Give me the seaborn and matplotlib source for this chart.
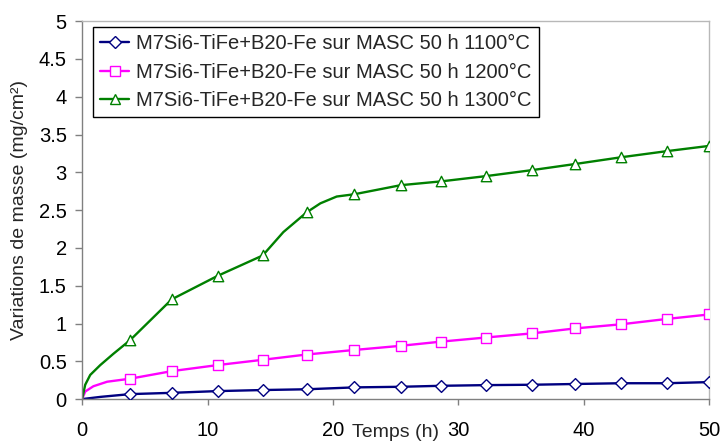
import matplotlib
matplotlib.use("Agg")
import matplotlib.pyplot as plt
from matplotlib.lines import Line2D
import numpy as np
import pandas as pd
import seaborn as sns

# ---- data ----
t_mark = [3.83, 7.15, 10.8, 14.4, 17.9, 21.7, 25.4, 28.6, 32.2, 35.9, 39.3, 43.0, 46.6, 50.0]
mass_1100 = [0.066, 0.083, 0.106, 0.12, 0.13, 0.155, 0.163, 0.176, 0.185, 0.19, 0.20, 0.21, 0.21, 0.225]
mass_1200 = [0.27, 0.37, 0.45, 0.52, 0.59, 0.65, 0.705, 0.76, 0.815, 0.87, 0.935, 0.99, 1.06, 1.12]
mass_1300 = [0.78, 1.32, 1.63, 1.90, 2.47, 2.71, 2.83, 2.88, 2.95, 3.03, 3.11, 3.20, 3.28, 3.35]

# extra points (no marker drawn there)
t_extra_1100 = [0.0, 1.5]
extra_1100 = [0.0, 0.03]
t_extra_1200 = [0.0, 0.25, 0.9, 2.0]
extra_1200 = [0.0, 0.10, 0.17, 0.23]
t_extra_1300 = [0.0, 0.25, 0.65, 1.45, 2.5, 16.05, 19.0, 20.3]
extra_1300 = [0.0, 0.19, 0.32, 0.45, 0.60, 2.21, 2.59, 2.68]

labels = [
    "M7Si6-TiFe+B20-Fe sur MASC 50 h 1100°C",
    "M7Si6-TiFe+B20-Fe sur MASC 50 h 1200°C",
    "M7Si6-TiFe+B20-Fe sur MASC 50 h 1300°C",
]
x_ticks = [0, 10, 20, 30, 40, 50]
y_ticks = [0, 0.5, 1, 1.5, 2, 2.5, 3, 3.5, 4, 4.5, 5]

colors = ["#000080", "#ff00ff", "#008000"]
markers = ["D", "s", "^"]
msizes = [6.0, 6.5, 7.5]

sns.set_theme(style="white")
plt.rcParams["font.family"] = ["Liberation Sans", "DejaVu Sans"]

fig = plt.figure(figsize=(7.2, 4.41), dpi=100)
ax = fig.add_axes([0.114, 0.095, 0.871, 0.857])

series = [
    (t_extra_1100, extra_1100, mass_1100),
    (t_extra_1200, extra_1200, mass_1200),
    (t_extra_1300, extra_1300, mass_1300),
]
handles = []
for (te, ye, ym), c, mk, ms, lab in zip(series, colors, markers, msizes, labels):
    df = pd.DataFrame({"t": list(te) + list(t_mark), "m": list(ye) + list(ym)}).sort_values("t")
    sns.lineplot(data=df, x="t", y="m", ax=ax, color=c, lw=1.7, legend=False)
    sns.scatterplot(x=t_mark, y=ym, ax=ax, marker=mk, s=ms ** 2, color="white",
                    edgecolor=c, linewidth=1.0, zorder=3, legend=False)
    handles.append(Line2D([0], [0], color=c, lw=1.7, marker=mk, markersize=ms,
                          markerfacecolor="white", markeredgecolor=c, markeredgewidth=1.0))

ax.set_xlim(0, 50)
ax.set_ylim(0, 5)
ax.set_xticks(x_ticks)
ax.set_yticks(y_ticks)
ax.set_xticklabels([str(v) for v in x_ticks])
ax.set_yticklabels([f"{v:g}" for v in y_ticks])

ax.tick_params(axis="x", direction="out", length=4, width=1, color="#808080",
               pad=12, labelsize=14.5, labelcolor="black", bottom=True)
ax.tick_params(axis="y", direction="out", length=5, width=1, color="#808080",
               pad=6, labelsize=14.5, labelcolor="black", left=True)

for side in ["left", "bottom"]:
    ax.spines[side].set_color("#808080")
    ax.spines[side].set_linewidth(1.0)
for side in ["top", "right"]:
    ax.spines[side].set_color("#b8b8b8")
    ax.spines[side].set_linewidth(1.0)

ax.set_xlabel("Temps (h)", fontsize=14, labelpad=-12)
ax.set_ylabel("Variations de masse (mg/cm²)", fontsize=14, labelpad=8)

leg = ax.legend(handles, labels, loc="upper left", bbox_to_anchor=(0.0175, 0.985),
                borderaxespad=0, fontsize=14.5, frameon=True, fancybox=False,
                edgecolor="black", framealpha=1, handlelength=1.45, handletextpad=0.35,
                labelspacing=0.48, borderpad=0.35)
leg.get_frame().set_linewidth(1.0)

fig.savefig("out.png", dpi=100)
